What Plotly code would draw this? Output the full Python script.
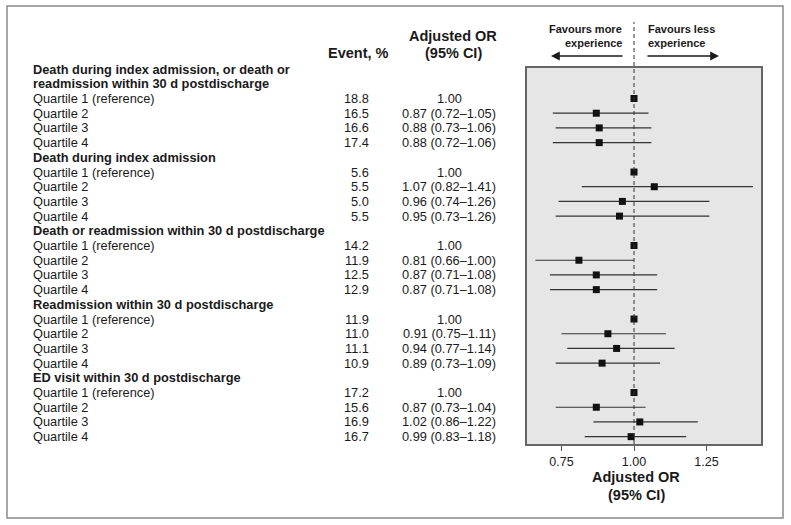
import plotly.graph_objects as go

W, H = 791, 525

groups = [
    ["Death during index admission, or death or", "readmission within 30 d postdischarge"],
    ["Death during index admission"],
    ["Death or readmission within 30 d postdischarge"],
    ["Readmission within 30 d postdischarge"],
    ["ED visit within 30 d postdischarge"],
]
quartiles = ["Quartile 1 (reference)", "Quartile 2", "Quartile 3", "Quartile 4"]

event_pct = [
    ["18.8", "16.5", "16.6", "17.4"],
    ["5.6", "5.5", "5.0", "5.5"],
    ["14.2", "11.9", "12.5", "12.9"],
    ["11.9", "11.0", "11.1", "10.9"],
    ["17.2", "15.6", "16.9", "16.7"],
]
or_est = [
    [1.00, 0.87, 0.88, 0.88],
    [1.00, 1.07, 0.96, 0.95],
    [1.00, 0.81, 0.87, 0.87],
    [1.00, 0.91, 0.94, 0.89],
    [1.00, 0.87, 1.02, 0.99],
]
ci_low = [
    [1.00, 0.72, 0.73, 0.72],
    [1.00, 0.82, 0.74, 0.73],
    [1.00, 0.66, 0.71, 0.71],
    [1.00, 0.75, 0.77, 0.73],
    [1.00, 0.73, 0.86, 0.83],
]
ci_high = [
    [1.00, 1.05, 1.06, 1.06],
    [1.00, 1.41, 1.26, 1.26],
    [1.00, 1.00, 1.08, 1.08],
    [1.00, 1.11, 1.14, 1.09],
    [1.00, 1.04, 1.22, 1.18],
]
tick_vals = [0.75, 1.00, 1.25]
tick_text = ["0.75", "1.00", "1.25"]

FONT = "Liberation Sans, Arial, sans-serif"
TXT = "#1a1a1a"
BODY = 12.8


def px(x):
    return x / W


def py(y):
    return 1 - y / H


xs, ys, eplus, eminus = [], [], [], []
annotations = []
body_font = dict(size=BODY, family=FONT, color=TXT)
for g in range(5):
    if g == 0:
        for i, line in enumerate(groups[0]):
            annotations.append(dict(x=px(32), y=-1.95 + 0.96 * i, xref="paper", yref="y",
                                    text="<b>" + line + "</b>", showarrow=False,
                                    xanchor="left", yanchor="middle", borderpad=0,
                                    font=body_font))
    else:
        annotations.append(dict(x=px(32), y=5 * g - 1, xref="paper", yref="y",
                                text="<b>" + groups[g][0] + "</b>", showarrow=False,
                                xanchor="left", yanchor="middle", borderpad=0,
                                font=body_font))
    for q in range(4):
        r = 5 * g + q
        o = or_est[g][q]
        lo = ci_low[g][q]
        hi = ci_high[g][q]
        xs.append(o)
        ys.append(r)
        eplus.append(hi - o)
        eminus.append(o - lo)
        annotations.append(dict(x=px(32), y=r, xref="paper", yref="y", text=quartiles[q],
                                showarrow=False, xanchor="left", yanchor="middle",
                                borderpad=0, font=body_font))
        annotations.append(dict(x=px(370), y=r, xref="paper", yref="y", text=event_pct[g][q],
                                showarrow=False, xanchor="right", yanchor="middle",
                                borderpad=0, font=body_font))
        if q == 0:
            ortxt = f"{o:.2f}"
        else:
            ortxt = f"{o:.2f} ({lo:.2f}\u2013{hi:.2f})"
        annotations.append(dict(x=px(449), y=r, xref="paper", yref="y", text=ortxt,
                                showarrow=False, xanchor="center", yanchor="middle",
                                borderpad=0, font=body_font))

hdr = dict(size=14.5, family=FONT, color=TXT)
annotations += [
    dict(x=px(358), y=py(53), xref="paper", yref="paper", text="<b>Event, %</b>",
         showarrow=False, xanchor="center", yanchor="middle", font=hdr),
    dict(x=px(453), y=py(36), xref="paper", yref="paper", text="<b>Adjusted OR</b>",
         showarrow=False, xanchor="center", yanchor="middle", font=hdr),
    dict(x=px(453), y=py(53), xref="paper", yref="paper", text="<b>(95% CI)</b>",
         showarrow=False, xanchor="center", yanchor="middle", font=hdr),
    dict(x=px(636), y=py(477), xref="paper", yref="paper", text="<b>Adjusted OR</b>",
         showarrow=False, xanchor="center", yanchor="middle", font=hdr),
    dict(x=px(636), y=py(495), xref="paper", yref="paper", text="<b>(95% CI)</b>",
         showarrow=False, xanchor="center", yanchor="middle", font=hdr),
]
fav = dict(size=11, family=FONT, color=TXT)
annotations += [
    dict(x=px(624), y=py(29), xref="paper", yref="paper", text="<b>Favours more</b>",
         showarrow=False, xanchor="right", yanchor="middle", font=fav),
    dict(x=px(624), y=py(43), xref="paper", yref="paper", text="<b>experience</b>",
         showarrow=False, xanchor="right", yanchor="middle", font=fav),
    dict(x=px(646), y=py(29), xref="paper", yref="paper", text="<b>Favours less</b>",
         showarrow=False, xanchor="left", yanchor="middle", font=fav),
    dict(x=px(646), y=py(43), xref="paper", yref="paper", text="<b>experience</b>",
         showarrow=False, xanchor="left", yanchor="middle", font=fav),
    dict(x=px(551), y=py(56), xref="paper", yref="paper", text="", showarrow=True,
         ax=73, ay=0, axref="pixel", ayref="pixel", arrowhead=2, arrowsize=1.1,
         arrowwidth=1.6, arrowcolor=TXT),
    dict(x=px(719), y=py(56), xref="paper", yref="paper", text="", showarrow=True,
         ax=-73, ay=0, axref="pixel", ayref="pixel", arrowhead=2, arrowsize=1.1,
         arrowwidth=1.6, arrowcolor=TXT),
]

fig = go.Figure()
fig.add_trace(go.Scatter(
    x=xs, y=ys, mode="markers",
    marker=dict(symbol="square", size=7, color="#111111"),
    error_x=dict(type="data", symmetric=False, array=eplus, arrayminus=eminus,
                 color="#333333", thickness=1.2, width=0),
    showlegend=False, hoverinfo="skip",
))

shapes = [
    dict(type="rect", xref="paper", yref="paper", x0=px(7), x1=px(783), y0=py(518), y1=py(6),
         line=dict(color="#8a8a8a", width=1.5), fillcolor="rgba(0,0,0,0)", layer="above"),
    dict(type="line", xref="x", yref="paper", x0=1.0, x1=1.0, y0=py(444), y1=py(22),
         line=dict(color="#333333", width=1, dash="4px,3px"), layer="above"),
]

fig.update_layout(
    width=W, height=H,
    margin=dict(l=0, r=0, t=0, b=0),
    paper_bgcolor="white",
    plot_bgcolor="#e6e6e6",
    annotations=annotations,
    shapes=shapes,
    xaxis=dict(domain=[px(527), px(761)], range=[0.631, 1.438], tickvals=tick_vals,
               ticktext=tick_text, ticks="outside", ticklen=5, tickcolor="#555555",
               tickfont=dict(size=12.5, family=FONT, color=TXT), showgrid=False,
               zeroline=False, showline=True, mirror=True, linecolor="#666666", linewidth=1.5),
    yaxis=dict(domain=[py(444), py(68)], range=[23.5, -2.075], showticklabels=False,
               ticks="", showgrid=False, zeroline=False, showline=True, mirror=True,
               linecolor="#666666", linewidth=1.5),
)

fig.write_html("out.html", config={"displayModeBar": False},
               post_script="document.body.style.margin='0';document.body.style.overflow='hidden';")
